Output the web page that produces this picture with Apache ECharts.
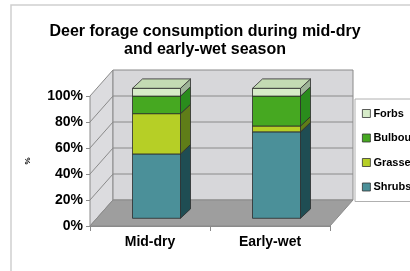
<!DOCTYPE html>
<html>
<head>
<meta charset="UTF-8">
<title>Deer forage consumption</title>
<script src="https://cdn.jsdelivr.net/npm/echarts@6/dist/echarts.min.js"></script>
<style>
	html, body { margin: 0; padding: 0; background: #fff; }
	#chart { width: 410px; height: 271px; }
</style>
</head>
<body>
<div id="chart"></div>
<script>
	// values (percent of diet)
	var categories = ['Mid-dry', 'Early-wet'];
	var shrubs  = [49.5, 66.5];
	var grasses = [31, 4.5];
	var bulbous = [13.5, 23];
	var forbs   = [6, 6];
	var yTicks  = [0, 20, 40, 60, 80, 100];

	var font = "'Liberation Sans', Arial, sans-serif";
	var WALL = [23, -26];      // depth of the box
	var OFF = [6.5, -7.7];     // bars sit a bit inside the box
	var DEPTH = [10, -9.4];    // depth of one bar

	var layers = [
		{ name: 'Shrubs',  vals: shrubs,  front: '#4b9099', side: '#1f4d53', top: '#6aa9b0' },
		{ name: 'Grasses', vals: grasses, front: '#b6cf26', side: '#5f7d18', top: '#cfe06a' },
		{ name: 'Bulbous', vals: bulbous, front: '#46a821', side: '#2a8c1c', top: '#7cc45e' },
		{ name: 'Forbs',   vals: forbs,   front: '#d7ecc9', side: '#9db497', top: '#c3dbb3' }
	];

	function wallItem(params, api) {
		var cs = params.coordSys;
		var L = cs.x, T = cs.y, R = cs.x + cs.width, B = cs.y + cs.height;
		var dx = WALL[0], dy = WALL[1];
		var kids = [];
		var line = { fill: 'none', stroke: '#8a8a8a', lineWidth: 1 };
		kids.push({ type: 'polygon', shape: { points: [[L, T], [L + dx, T + dy], [L + dx, B + dy], [L, B]] },
			style: { fill: '#dcdcdf', stroke: '#8a8a8a', lineWidth: 1 } });
		kids.push({ type: 'polygon', shape: { points: [[L + dx, T + dy], [R + dx, T + dy], [R + dx, B + dy], [L + dx, B + dy]] },
			style: { fill: '#d7d7da', stroke: '#8a8a8a', lineWidth: 1 } });
		kids.push({ type: 'polygon', shape: { points: [[L, B], [R, B], [R + dx, B + dy], [L + dx, B + dy]] },
			style: { fill: '#9e9e9e', stroke: '#8a8a8a', lineWidth: 1 } });
		for (var i = 1; i < yTicks.length - 1; i++) {
			var y = api.coord([0, yTicks[i]])[1];
			kids.push({ type: 'polyline', shape: { points: [[L, y], [L + dx, y + dy], [R + dx, y + dy]] }, style: line });
		}
		return { type: 'group', children: kids };
	}

	function makeBar(layer, isTop) {
		return function (params, api) {
			var cat = api.value(0), lo = api.value(1), hi = api.value(2);
			var pLo = api.coord([cat, lo]), pHi = api.coord([cat, hi]);
			var w = api.size([1, 0])[0] * 0.4;
			var x0 = pLo[0] - w / 2 + OFF[0], x1 = x0 + w;
			var yb = pLo[1] + OFF[1], yt = pHi[1] + OFF[1];
			var dx = DEPTH[0], dy = DEPTH[1];
			var edge = { stroke: '#2b2b2b', lineWidth: 0.8 };
			var kids = [
				{ type: 'polygon', shape: { points: [[x1, yb], [x1 + dx, yb + dy], [x1 + dx, yt + dy], [x1, yt]] },
					style: { fill: layer.side, stroke: edge.stroke, lineWidth: edge.lineWidth } },
				{ type: 'rect', shape: { x: x0, y: yt, width: w, height: yb - yt },
					style: { fill: layer.front, stroke: edge.stroke, lineWidth: edge.lineWidth } }
			];
			if (isTop) {
				kids.push({ type: 'polygon', shape: { points: [[x0, yt], [x1, yt], [x1 + dx, yt + dy], [x0 + dx, yt + dy]] },
					style: { fill: layer.top, stroke: edge.stroke, lineWidth: edge.lineWidth } });
			}
			return { type: 'group', children: kids };
		};
	}

	var series = [{
		type: 'custom',
		name: 'walls',
		z: 1,
		silent: true,
		renderItem: wallItem,
		data: [[0, 0]]
	}];

	var base = categories.map(function () { return 0; });
	layers.forEach(function (layer, k) {
		var data = categories.map(function (c, i) {
			var lo = base[i];
			base[i] = lo + layer.vals[i];
			return [i, lo, base[i]];
		});
		series.push({
			type: 'custom',
			name: layer.name,
			z: 2 + k,
			itemStyle: { color: layer.front },
			renderItem: makeBar(layer, k === layers.length - 1),
			encode: { x: 0, y: [1, 2] },
			data: data
		});
	});

	var chart = echarts.init(document.getElementById('chart'));
	chart.setOption({
		animation: false,
		backgroundColor: '#fff',
		graphic: [{
			type: 'rect',
			shape: { x: 11, y: 5, width: 420, height: 300 },
			style: { fill: 'none', stroke: '#cfcfcf', lineWidth: 1.5 },
			z: 0
		}],
		title: [{
			text: 'Deer forage consumption during mid-dry',
			left: 'center',
			top: 19,
			padding: [5, 11, 5, 5],
			textStyle: { fontFamily: font, fontSize: 16, fontWeight: 'bold', color: '#000' }
		}, {
			text: 'and early-wet season',
			left: 'center',
			top: 37,
			padding: [5, 9, 5, 5],
			textStyle: { fontFamily: font, fontSize: 16, fontWeight: 'bold', color: '#000' }
		}],
		legend: {
			orient: 'vertical',
			left: 355,
			top: 99,
			padding: [9, 30, 9, 7],
			itemWidth: 8,
			itemHeight: 8,
			itemGap: 13.5,
			backgroundColor: '#fff',
			borderColor: '#b0b0b0',
			borderWidth: 1,
			icon: 'rect',
			itemStyle: { borderColor: '#333', borderWidth: 0.8 },
			textStyle: { fontFamily: font, fontSize: 11, fontWeight: 'bold', color: '#000', padding: [0, 0, 0, -2] },
			data: ['Forbs', 'Bulbous', 'Grasses', 'Shrubs']
		},
		grid: { left: 90, right: 80, top: 96, bottom: 45 },
		xAxis: {
			type: 'category',
			data: categories,
			axisLine: { lineStyle: { color: '#8a8a8a' } },
			axisTick: { show: true, length: 5, lineStyle: { color: '#8a8a8a' } },
			axisLabel: { fontFamily: font, fontSize: 14, fontWeight: 'bold', color: '#000', margin: 9 },
			splitLine: { show: false }
		},
		yAxis: {
			type: 'value',
			min: 0,
			max: 100,
			interval: 20,
			name: '%',
			nameLocation: 'middle',
			nameGap: 58,
			nameRotate: 90,
			nameTextStyle: { fontFamily: font, fontSize: 8, fontWeight: 'bold', color: '#000' },
			axisLine: { show: true, lineStyle: { color: '#8a8a8a' } },
			axisTick: { show: true, length: 4, lineStyle: { color: '#8a8a8a' } },
			axisLabel: { formatter: '{value}%', fontFamily: font, fontSize: 14, fontWeight: 'bold', color: '#000', margin: 7 },
			splitLine: { show: false }
		},
		series: series
	});
</script>
</body>
</html>
